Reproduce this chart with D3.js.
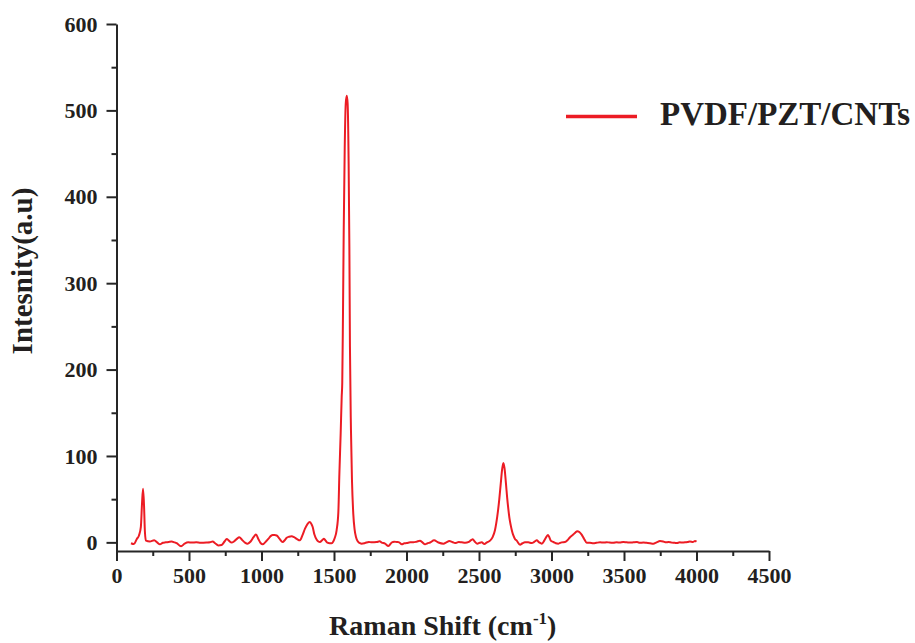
<!DOCTYPE html>
<html>
<head>
<meta charset="utf-8">
<script src="https://cdn.jsdelivr.net/npm/d3@7"></script>
<style>
  html, body { margin: 0; padding: 0; background: #fff; }
  svg { display: block; }
  text { font-family: "Liberation Serif", "Times New Roman", serif; font-weight: bold; fill: #231f20; }
</style>
</head>
<body>
<svg id="chart" width="915" height="643"></svg>
<script>
// Raman spectrum of the PVDF/PZT/CNTs composite
const seriesName = "PVDF/PZT/CNTs";

const ramanShift = [
  100, 120, 140, 155, 168, 176, 183, 190, 196, 203, 230, 260, 280, 300, 320, 340, 360, 380, 400, 415,
  445, 470, 495, 520, 550, 580, 620, 645, 663, 680, 702, 725, 745, 760, 775, 794, 810, 830, 847, 865,
  886, 905, 925, 945, 962, 978, 995, 1008, 1025, 1047, 1065, 1077, 1090, 1105, 1125, 1146, 1160, 1174, 1190, 1208,
  1225, 1243, 1265, 1282, 1300, 1318, 1334, 1345, 1353, 1365, 1381, 1392, 1403, 1418, 1431, 1442, 1454, 1470, 1484, 1495,
  1505, 1518, 1530, 1537, 1546, 1553, 1557, 1562, 1567, 1574, 1581, 1588, 1594, 1601, 1606, 1610, 1617, 1624, 1633, 1642,
  1652, 1665, 1679, 1691, 1714, 1740, 1760, 1794, 1815, 1829, 1852, 1875, 1898, 1915, 1933, 1950, 1967, 1985, 2002, 2025,
  2048, 2070, 2093, 2110, 2128, 2145, 2163, 2190, 2220, 2255, 2275, 2295, 2315, 2335, 2360, 2381, 2405, 2430, 2445, 2457,
  2470, 2489, 2505, 2519, 2537, 2555, 2576, 2594, 2610, 2626, 2640, 2650, 2660, 2668, 2676, 2686, 2694, 2702, 2710, 2719,
  2728, 2737, 2748, 2760, 2783, 2800, 2817, 2840, 2863, 2885, 2898, 2915, 2933, 2950, 2960, 2975, 2985, 2995, 3013, 3030,
  3047, 3070, 3093, 3110, 3128, 3150, 3165, 3178, 3192, 3208, 3225, 3243, 3265, 3289, 3310, 3335, 3358, 3380, 3400, 3426,
  3450, 3470, 3495, 3520, 3545, 3564, 3590, 3610, 3633, 3655, 3680, 3702, 3725, 3748, 3770, 3790, 3806, 3830, 3850, 3863,
  3885, 3900, 3921, 3940, 3955, 3975, 3990, 4000
];

const intensity = [
  -1, -2, 4, 8, 18, 45, 62, 42, 12, 2, 1, 2.5, 0, -2.3, -0.5, 0, 0.5, 1, 0, -1,
  -4.5, -1.5, 0, -0.3, 0, -0.5, -0.3, 0, 1, -1, -3.5, -3, 1, 4, 2, -0.3, 1, 4, 6, 3,
  -0.3, -1.5, 1, 6, 9, 4, -1, -2.3, 0, 4, 7.5, 8.5, 8.5, 8, 4, 0.5, 2.5, 5.4, 6.5, 7,
  6, 4, 2.3, 8, 15.8, 21.5, 23.5, 21, 17.7, 9, 3, 1, 0.4, 2.5, 4.2, 2, -0.4, -1, -1, 1,
  5, 14, 35, 79, 126, 168, 185, 265, 361, 457, 508, 517, 508, 438, 342, 226, 130, 72, 33, 15,
  6, 1, -1, -1.5, -0.8, 0.5, 0, 0.4, 1.2, -0.2, -1.5, -4.2, -0.2, 0.8, 0.4, 0, -2.3, -1, -0.8, 0,
  0, 0.8, 1.9, 0, -2.3, -1, -0.2, 2.3, -0.2, -1.5, 0, 1.5, 0.5, -0.8, 0.3, 0, -0.4, 0.5, 2.5, 3.5,
  1, -1.5, -0.5, 0, -2, 0, 2, 6, 14, 30, 50, 68, 85, 92, 86, 68, 52, 39, 28, 19.7,
  13, 8, 4, 2, -2.7, -1, 0, 0, -0.8, 1, 2.3, 0, -1.5, 2, 5, 8.5, 6, 2, 0.4, -1,
  -1.5, 0, 0.4, 2.5, 6, 9, 11.5, 13, 12, 9, 4, -0.4, -0.5, -1, -0.5, 0, -0.3, 0.2, -0.2, -0.4,
  0, -0.3, 0.4, 0, -0.3, 0, 0.3, -0.5, -0.2, -0.5, -1, -1.5, 0, 1.5, 1, 0, 0.4, -0.3, -0.5, -0.8,
  0, -0.2, 0, 0.5, 1, 0.5, 1.5, 0.8
];

const xTickValues = [0, 500, 1000, 1500, 2000, 2500, 3000, 3500, 4000, 4500];
const xMinorTickValues = [250, 750, 1250, 1750, 2250, 2750, 3250, 3750, 4250];
const yTickValues = [0, 100, 200, 300, 400, 500, 600];
const yMinorTickValues = [50, 150, 250, 350, 450, 550];

const svg = d3.select("#chart");
const plotLeft = 116.5, plotRight = 769, plotTop = 24, plotBottom = 551;
const axisColor = "#262626";
const lineColor = "#ec1c24";

const x = d3.scaleLinear().domain([0, 4500]).range([plotLeft, plotRight]);
const y = d3.scaleLinear().domain([-10, 600]).range([plotBottom, plotTop]);

const points = ramanShift.map((v, i) => [v, intensity[i]]);

// spectrum trace
svg.append("path")
  .datum(points)
  .attr("fill", "none")
  .attr("stroke", lineColor)
  .attr("stroke-width", 2)
  .attr("stroke-linejoin", "round")
  .attr("d", d3.line()
    .x(d => x(d[0]))
    .y(d => y(d[1]))
    .curve(d3.curveMonotoneX));

const plain = d3.format("d");

// x axis with major + minor ticks
const xAxisG = svg.append("g").attr("transform", `translate(0,${plotBottom})`);
xAxisG.call(d3.axisBottom(x).tickValues(xTickValues).tickFormat(plain)
  .tickSize(10).tickPadding(6).tickSizeOuter(0));
xAxisG.append("g").call(d3.axisBottom(x).tickValues(xMinorTickValues).tickSize(5).tickFormat(""))
  .select(".domain").remove();

// y axis with major + minor ticks
const yAxisG = svg.append("g").attr("transform", `translate(${plotLeft},0)`);
yAxisG.call(d3.axisLeft(y).tickValues(yTickValues).tickFormat(plain)
  .tickSize(10).tickPadding(9).tickSizeOuter(0));
yAxisG.append("g").call(d3.axisLeft(y).tickValues(yMinorTickValues).tickSize(5).tickFormat(""))
  .select(".domain").remove();

svg.selectAll(".domain").attr("stroke", axisColor).attr("stroke-width", 2);
svg.selectAll(".tick line").attr("stroke", axisColor).attr("stroke-width", 2);
svg.selectAll(".tick text")
  .attr("font-family", "Liberation Serif, serif")
  .attr("font-weight", "bold")
  .attr("font-size", 22)
  .attr("fill", "#231f20");

// axis titles
const xTitle = svg.append("text")
  .attr("x", (plotLeft + plotRight) / 2)
  .attr("y", 635)
  .attr("text-anchor", "middle")
  .attr("font-size", 28);
xTitle.append("tspan").text("Raman Shift (cm");
xTitle.append("tspan").attr("font-size", 17).attr("dy", -11).text("-1");
xTitle.append("tspan").attr("dy", 11).text(")");

svg.append("text")
  .attr("transform", "translate(32,271) rotate(-90)")
  .attr("text-anchor", "middle")
  .attr("font-size", 29)
  .text("Intesnity(a.u)");

// legend
svg.append("line")
  .attr("x1", 566).attr("x2", 637)
  .attr("y1", 116.5).attr("y2", 116.5)
  .attr("stroke", lineColor)
  .attr("stroke-width", 3.5);
svg.append("text")
  .attr("x", 660)
  .attr("y", 125)
  .attr("font-size", 33)
  .text(seriesName);
</script>
</body>
</html>
